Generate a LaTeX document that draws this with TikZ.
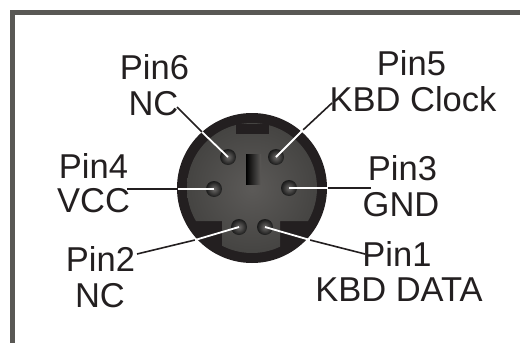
\documentclass[tikz,border=0pt]{standalone}
\usepackage{fontspec}
\setmainfont{Liberation Sans}
\definecolor{inkblack}{HTML}{231F20}
\definecolor{framegrey}{HTML}{595855}
\definecolor{facegrey}{HTML}{5C5A58}
\definecolor{faceedge}{HTML}{454442}
\tikzset{
  pinlabel/.style={text=inkblack,inner sep=0pt,font=\fontsize{34.5}{34.5}\selectfont},
  pinhole/.style={circle,minimum size=16pt,inner sep=0pt,shading=radial,inner color=facegrey!90,outer color=black!90},
  leadout/.style={inkblack,line width=1.6pt},
  leadin/.style={white,line width=1.8pt}
}
\begin{document}
\begin{tikzpicture}[x=1pt,y=-1pt]
\useasboundingbox (0,0) rectangle (520,343);

% frame, open at the right and at the bottom
\draw[framegrey,line width=5pt] (12.5,343) -- (12.5,12.5) -- (520,12.5);

% connector body
\fill[inkblack] (252,188) circle (75);
\begin{scope}
\clip (252,188) circle (65);
\clip (170,110) rectangle (335,221) (222,221) rectangle (280,260);
\shade[inner color=facegrey,outer color=faceedge] (252,188) circle (65);
\end{scope}
\fill[inkblack] (236,124) rectangle (269,134);
\shade[left color=black,right color=facegrey] (246,154) rectangle (261,184);

% pins
\node[pinhole] (p6) at (228,157) {};
\node[pinhole] (p5) at (276,157) {};
\node[pinhole] (p4) at (214,189) {};
\node[pinhole] (p3) at (289,188) {};
\node[pinhole] (p2) at (239,227) {};
\node[pinhole] (p1) at (265,227) {};

% labels
\node[pinlabel] (pin6) at (154.5,67) {Pin6};
\node[pinlabel] (nc6) at (153.5,104) {NC};
\node[pinlabel] (pin5) at (411.5,63.5) {Pin5};
\node[pinlabel] (clk) at (413,99) {KBD Clock};
\node[pinlabel] (pin4) at (93.5,165.5) {Pin4};
\node[pinlabel] (vcc) at (93.5,201) {VCC};
\node[pinlabel] (pin3) at (402.5,168.5) {Pin3};
\node[pinlabel] (gnd) at (401,205) {GND};
\node[pinlabel] (pin2) at (100.5,258.5) {Pin2};
\node[pinlabel] (nc2) at (100,295.5) {NC};
\node[pinlabel] (pin1) at (397,253.5) {Pin1};
\node[pinlabel] (data) at (399,290) {KBD DATA};

% leader lines, black outside the rim and white on the face
\coordinate (e6) at (177,107);
\coordinate (r6) at (202,132);
\coordinate (e5) at (332,103);
\coordinate (r5) at (303,130);
\coordinate (e4) at (127,189);
\coordinate (r4) at (178,189);
\coordinate (e3) at (371,188);
\coordinate (r3) at (328,188);
\coordinate (e2) at (137,254);
\coordinate (r2) at (195,240);
\coordinate (e1) at (365,254);
\coordinate (r1) at (310,240);
\draw[leadout] (e6) -- (r6);
\draw[leadin] (r6) -- (p6.center);
\draw[leadout] (e5) -- (r5);
\draw[leadin] (r5) -- (p5.center);
\draw[leadout] (e4) -- (r4);
\draw[leadin] (r4) -- (p4.center);
\draw[leadout] (e3) -- (r3);
\draw[leadin] (r3) -- (p3.center);
\draw[leadout] (e2) -- (r2);
\draw[leadin] (r2) -- (p2.center);
\draw[leadout] (e1) -- (r1);
\draw[leadin] (r1) -- (p1.center);
\end{tikzpicture}
\end{document}
